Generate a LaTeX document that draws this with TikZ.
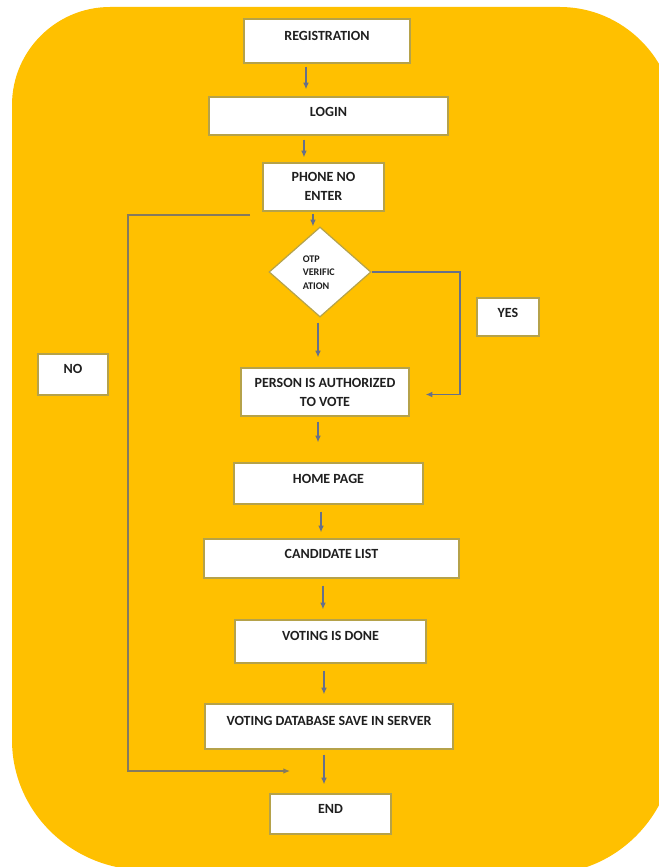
\documentclass[tikz,border=0pt]{standalone}
\usepackage{fontspec}
\setmainfont{Carlito}
\usetikzlibrary{arrows.meta,shapes.geometric}
\definecolor{bgyellow}{HTML}{FFC000}
\definecolor{boxline}{HTML}{B5A24A}
\definecolor{conn}{HTML}{66708A}
\definecolor{noline}{HTML}{857A5E}
\tikzset{
  box/.style={draw=boxline,line width=0.9pt,fill=white,inner sep=0pt},
  txt/.style={font=\bfseries\fontsize{10.5}{14.2}\selectfont,inner sep=0pt,text depth=0pt,align=center,text=black!88},
  arr/.style={draw=conn,line width=0.9pt,-{Latex[length=5pt,width=4.2pt]}},
}
\begin{document}
\begin{tikzpicture}[x=0.75pt,y=-0.75pt]
\useasboundingbox (0,0) rectangle (659,867);
\fill[white] (0,0) rectangle (659,867);
\begin{scope}
\clip (0,0) rectangle (659,867);
\fill[bgyellow] (12,105) .. controls (12,51) and (56,7) .. (110,7)
  -- (560,7) .. controls (623,7) and (675,59) .. (675,122)
  -- (675,742) .. controls (675,814) and (617,874) .. (545,874)
  -- (145,870) .. controls (72,870) and (12,812) .. (12,740) -- cycle;
\end{scope}

% boxes
\node[box,minimum width=124.5pt,minimum height=33pt] (reg) at (327,41) {};
\node[txt] (reg-t) at (327,36) {REGISTRATION};
\node[box,minimum width=179.25pt,minimum height=28.5pt] (login) at (328.5,116) {};
\node[txt] (login-t) at (328.5,112) {LOGIN};
\node[box,minimum width=90.75pt,minimum height=36pt] (phone) at (323.5,187) {};
\node[txt] (phone-t) at (323.5,186.5) {PHONE NO\\ENTER};
\node[box,shape=diamond,minimum width=76.5pt,minimum height=67.5pt] (otp) at (320,272) {};
\node[font=\bfseries\fontsize{7.6}{10.1}\selectfont,inner sep=0pt,align=left,anchor=west,text=black!88] (otp-t) at (302.5,272.5) {OTP\\VERIFIC\\ATION};
\node[box,minimum width=46.5pt,minimum height=28.5pt] (yes) at (508,317) {};
\node[txt] (yes-t) at (508,313) {YES};
\node[box,minimum width=52.5pt,minimum height=30.75pt] (no) at (73,374.5) {};
\node[txt] (no-t) at (73,368.5) {NO};
\node[box,minimum width=126pt,minimum height=36pt] (person) at (325,392) {};
\node[txt] (person-t) at (325,392) {PERSON IS AUTHORIZED\\TO VOTE};
\node[box,minimum width=141.75pt,minimum height=30.75pt] (home) at (328.5,483.5) {};
\node[txt] (home-t) at (328.5,479) {HOME PAGE};
\node[box,minimum width=191.25pt,minimum height=29.25pt] (cand) at (331.5,558.5) {};
\node[txt] (cand-t) at (331.5,554) {CANDIDATE LIST};
\node[box,minimum width=143.25pt,minimum height=32.25pt] (vote) at (330.5,641.5) {};
\node[txt] (vote-t) at (330.5,635.5) {VOTING IS DONE};
\node[box,minimum width=186pt,minimum height=33.75pt] (db) at (329,726.5) {};
\node[txt] (db-t) at (329,721) {VOTING DATABASE SAVE IN SERVER};
\node[box,minimum width=90.75pt,minimum height=30pt] (end) at (330.5,814) {};
\node[txt] (end-t) at (330.5,808.5) {END};

% straight connectors
\draw[arr,shorten <=2.25pt,shorten >=5.25pt] ([xshift=-15.75pt]reg.south) -- ([xshift=-15.75pt]reg.south |- login.north);
\draw[arr,shorten <=3pt,shorten >=3.75pt] ([xshift=-18.4pt]login.south) -- ([xshift=-18.4pt]login.south |- phone.north);
\draw[arr,shorten <=1.5pt] ([xshift=-7.9pt]phone.south) -- ([xshift=-7.9pt]phone.south |- otp.north);
\draw[arr,shorten <=3.75pt,shorten >=7.5pt] ([xshift=-1.5pt]otp.south) -- ([xshift=-1.5pt]otp.south |- person.north);
\draw[arr,shorten <=3.75pt,shorten >=15pt] ([xshift=-5.25pt]person.south) -- ([xshift=-5.25pt]person.south |- home.north);
\draw[arr,shorten <=5.25pt,shorten >=4.5pt] ([xshift=-5.6pt]home.south) -- ([xshift=-5.6pt]home.south |- cand.north);
\draw[arr,shorten <=5.25pt,shorten >=7.5pt] ([xshift=-6.4pt]cand.south) -- ([xshift=-6.4pt]cand.south |- vote.north);
\draw[arr,shorten <=5.25pt,shorten >=6.75pt] ([xshift=-4.9pt]vote.south) -- ([xshift=-4.9pt]vote.south |- db.north);
\draw[arr,shorten <=3.75pt,shorten >=6.75pt] ([xshift=-3.75pt]db.south) -- ([xshift=-3.75pt]db.south |- end.north);

% YES branch
\coordinate (yesturn) at (460,394.5);
\draw[arr,shorten >=12pt] (otp.east) -| (yesturn) -- (person.east |- yesturn);

% NO branch
\coordinate (nostart) at (250,215);
\coordinate (noturn) at (128,771);
\coordinate (noend) at (290,771);
\draw[arr,draw=noline] (nostart) -| (noturn) -- (noend);
\end{tikzpicture}
\end{document}
